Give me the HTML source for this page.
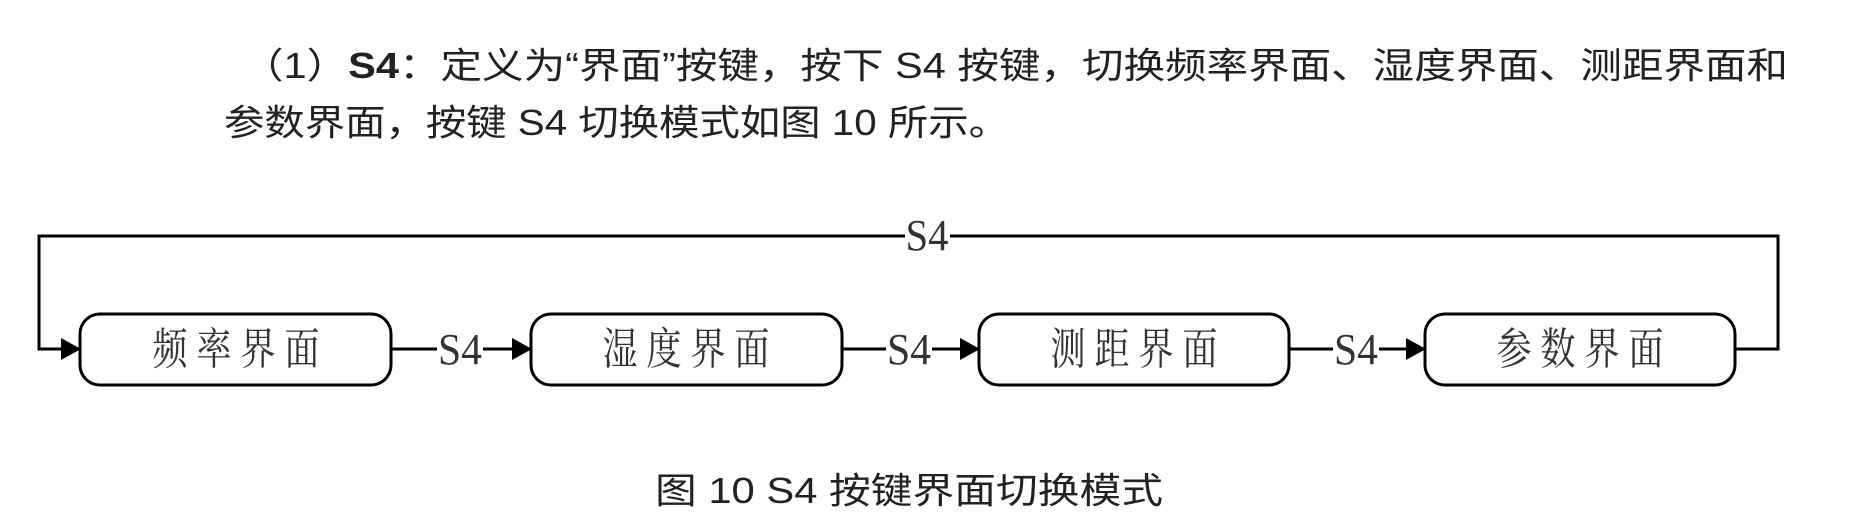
<!DOCTYPE html>
<html><head><meta charset="utf-8"><style>
html,body{margin:0;padding:0;background:#fff;}
svg{display:block;}
.p{font-family:"Liberation Sans","Noto Sans CJK SC",sans-serif;font-size:36px;fill:#222;}
.s{font-family:"Liberation Serif","Noto Serif CJK SC",serif;fill:#333;}
</style></head><body>
<svg width="1851" height="531" viewBox="0 0 1851 531" xmlns="http://www.w3.org/2000/svg">
<defs><marker id="a" markerWidth="20" markerHeight="22" refX="19" refY="11" orient="auto" markerUnits="userSpaceOnUse"><path d="M0,0 L20,11 L0,22 Z" fill="#000"/></marker></defs>
<text class="p" x="242" y="78" textLength="1546" lengthAdjust="spacingAndGlyphs">（1）<tspan font-weight="bold">S4</tspan>：定义为“界面”按键，按下 S4 按键，切换频率界面、湿度界面、测距界面和</text>
<text class="p" x="224" y="135" textLength="785" lengthAdjust="spacingAndGlyphs">参数界面，按键 S4 切换模式如图 10 所示。</text>
<text class="p" x="655" y="503" textLength="508" lengthAdjust="spacingAndGlyphs">图 10 S4 按键界面切换模式</text>
<g fill="none" stroke="#000" stroke-width="3">
<path d="M905,236 H39 V349 H80" marker-end="url(#a)"/>
<path d="M950,236 H1778 V349 H1735"/>
<rect x="80" y="314" width="311" height="71" rx="20"/>
<rect x="531" y="314" width="311" height="71" rx="20"/>
<rect x="979" y="314" width="310" height="71" rx="20"/>
<rect x="1425" y="314" width="310" height="71" rx="20"/>
<path d="M391,349 H437"/><path d="M483,349 H531" marker-end="url(#a)"/>
<path d="M842,349 H886"/><path d="M932,349 H979" marker-end="url(#a)"/>
<path d="M1289,349 H1333"/><path d="M1379,349 H1425" marker-end="url(#a)"/>
</g>
<g class="s" font-size="44" text-anchor="middle">
<text x="927" y="250" textLength="43" lengthAdjust="spacingAndGlyphs">S4</text>
<text x="460" y="364" textLength="44" lengthAdjust="spacingAndGlyphs">S4</text>
<text x="909" y="364" textLength="44" lengthAdjust="spacingAndGlyphs">S4</text>
<text x="1356" y="364" textLength="44" lengthAdjust="spacingAndGlyphs">S4</text>
<text transform="translate(236,364) scale(0.8,1)"><tspan x="-82.5">频</tspan><tspan x="-27.5">率</tspan><tspan x="27.5">界</tspan><tspan x="82.5">面</tspan></text>
<text transform="translate(686,364) scale(0.8,1)"><tspan x="-82.5">湿</tspan><tspan x="-27.5">度</tspan><tspan x="27.5">界</tspan><tspan x="82.5">面</tspan></text>
<text transform="translate(1134,364) scale(0.8,1)"><tspan x="-82.5">测</tspan><tspan x="-27.5">距</tspan><tspan x="27.5">界</tspan><tspan x="82.5">面</tspan></text>
<text transform="translate(1580,364) scale(0.8,1)"><tspan x="-82.5">参</tspan><tspan x="-27.5">数</tspan><tspan x="27.5">界</tspan><tspan x="82.5">面</tspan></text>
</g>
</svg>
</body></html>
